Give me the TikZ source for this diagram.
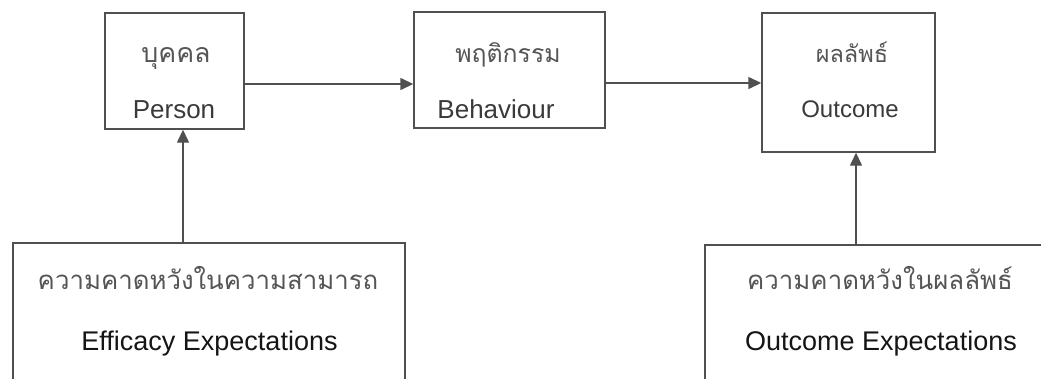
\documentclass[tikz,border=0pt]{standalone}
\usepackage{fontspec}
\setmainfont{Liberation Sans}
\newfontfamily\thaifont[Script=Thai]{Loma}
\usetikzlibrary{arrows.meta}
\definecolor{linegray}{HTML}{505050}
\definecolor{thaigray}{HTML}{555555}
\definecolor{engtop}{HTML}{3A3A3A}
\definecolor{engbot}{HTML}{151515}
\begin{document}
\begin{tikzpicture}[x=1pt,y=-1pt,
  box/.style={draw=linegray, line width=1.4pt, inner sep=0pt, fill=none},
  arr/.style={draw=linegray, line width=1.4pt, -{Triangle[length=13pt,width=12pt]}},
  thai/.style={anchor=base, inner sep=0pt, text=thaigray, font=\thaifont\fontsize{#1}{30}\selectfont},
  thai/.default=25.8,
  engt/.style={anchor=base, inner sep=0pt, text=engtop, font=\fontsize{#1}{30}\selectfont},
  engt/.default=26,
  engb/.style={anchor=base, inner sep=0pt, text=engbot, font=\fontsize{27}{30}\selectfont}]
\useasboundingbox (0,0) rectangle (1041,378);
\fill[white] (0,0) rectangle (1041,378);
\clip (0,0) rectangle (1041,378);
% top boxes
\node[box, minimum width=139pt, minimum height=116pt] (person) at (174.5,71) {};
\node[box, minimum width=191pt, minimum height=116pt] (behav) at (509.5,70) {};
\node[box, minimum width=173pt, minimum height=139pt] (outc) at (848.5,82.5) {};
% bottom boxes (cut by the page edge)
\node[box, minimum width=392pt, minimum height=200pt] (effb) at (209,343) {};
\node[box, minimum width=354pt, minimum height=200pt] (outb) at (882,345) {};
% texts
\node[thai=26.8] (t1) at (176,62) {บุคคล};
\node[engt] (e1) at (174,118) {Person};
\node[thai=24.8] (t2) at (508,62) {พฤติกรรม};
\node[engt] (e2) at (496,118) {Behaviour};
\node[thai=23.5] (t3) at (852,62) {ผลลัพธ์};
\node[engt=24] (e3) at (850,117) {Outcome};
\node[thai] (t4) at (208,289) {ความคาดหวังในความสามารถ};
\node[engb] (e4) at (209.5,350) {Efficacy Expectations};
\node[thai] (t5) at (880,289) {ความคาดหวังในผลลัพธ์};
\node[engb] (e5) at (881,350) {Outcome Expectations};
% connectors
\coordinate (p1) at ([yshift=-13pt]person.east);
\draw[arr] (p1) -- (p1 -| behav.west);
\coordinate (p2) at ([yshift=-13pt]behav.east);
\draw[arr] (p2) -- (p2 -| outc.west);
\coordinate (p3) at ([xshift=8.5pt]person.south);
\draw[arr] (p3 |- effb.north) -- (p3);
\coordinate (p4) at ([xshift=7.5pt]outc.south);
\draw[arr] (p4 |- outb.north) -- (p4);
\end{tikzpicture}
\end{document}
